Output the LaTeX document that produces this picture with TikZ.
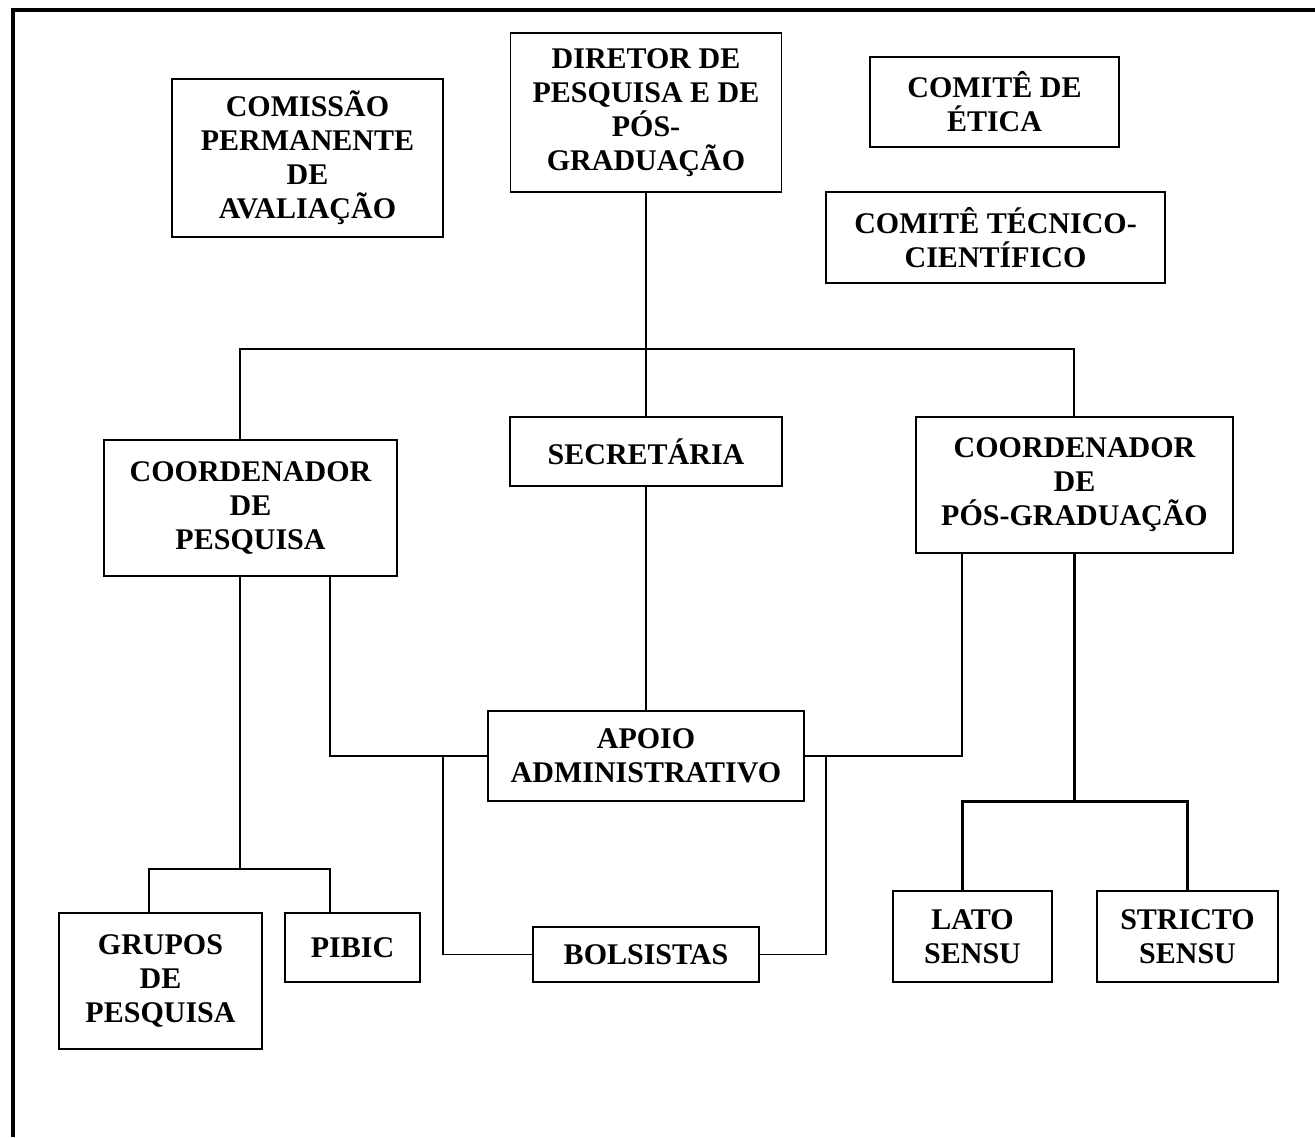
\documentclass[tikz,border=0pt]{standalone}
\usepackage{fontspec}
\setmainfont{Liberation Serif}

\begin{document}
\begin{tikzpicture}
[x=0.5pt,y=-0.5pt,
  lineDecorate/.style={-,line width=0.75pt},%
  thickDecorate/.style={-,line width=1.5pt},
  frameDecorate/.style={-,line width=1.6pt},
  nodeDecorate/.style={shape=rectangle,draw,line width=0.75pt,align=center,
    inner sep=0pt,font={\fontsize{15}{17}\selectfont\bfseries}}]
\useasboundingbox (0,0) rectangle (1315,1137);
%% frame
\draw[frameDecorate] (13,1137) -- (13,10) -- (1315,10);
%% boxes
\foreach \nodename/\x/\y/\w/\h/\txt in {
  comissao/307.5/158/271/158/{COMISSÃO\\PERMANENTE\\DE\\AVALIAÇÃO},
  diretor/646/112.5/271/159/{DIRETOR DE\\PESQUISA E DE\\PÓS-\\GRADUAÇÃO},
  etica/994.5/102/249/90/{COMITÊ DE\\ÉTICA},
  tecnico/995.5/237.5/339/91/{COMITÊ TÉCNICO-\\CIENTÍFICO},
  coordpesq/250.5/508/293/136/{COORDENADOR\\DE\\PESQUISA},
  secretaria/646/451.5/272/69/{SECRETÁRIA},
  coordpos/1074.5/485/317/136/{COORDENADOR\\DE\\PÓS-GRADUAÇÃO},
  apoio/646/756/316/90/{APOIO\\ADMINISTRATIVO},
  bolsistas/646/954.5/226/55/{BOLSISTAS},
  grupos/160.5/981/203/136/{GRUPOS\\DE\\PESQUISA},
  pibic/352.5/947.5/135/69/{PIBIC},
  lato/972.5/936.5/159/91/{LATO\\SENSU},
  stricto/1187.5/936.5/181/91/{STRICTO\\SENSU}}
{
  \node (\nodename) at (\x,\y) [nodeDecorate,minimum width=\w*0.5pt,
    minimum height=\h*0.5pt] {\txt};
}
%% junctions
\coordinate (busL) at (240,349);
\coordinate (busR) at (1074,349);
\coordinate (forkL) at (149,869);
\coordinate (forkR) at (330,869);
\coordinate (latoTop) at (962,801);
\coordinate (strictoTop) at (1187,801);
\coordinate (bolsL) at (443,756);
\coordinate (bolsR) at (826,756);
%% lines
\draw[lineDecorate] (diretor.south) -- (secretaria.north);
\draw[lineDecorate] (busL |- coordpesq.north) -- (busL) -- (busR)
  -- (busR |- coordpos.north);
\draw[lineDecorate] (secretaria.south) -- (apoio.north);
\draw[lineDecorate] (busL |- coordpesq.south) -- (busL |- forkL);
\draw[lineDecorate] (forkL |- grupos.north) -- (forkL) -- (forkR)
  -- (forkR |- pibic.north);
\draw[lineDecorate] (forkR |- coordpesq.south) |- (apoio.west);
\draw[lineDecorate] (apoio.east) -| (latoTop |- coordpos.south);
\draw[lineDecorate] (bolsL) |- (bolsistas.west);
\draw[lineDecorate] (bolsistas.east) -| (bolsR);
\draw[thickDecorate] (coordpos.south) -- (coordpos.south |- latoTop);
\draw[thickDecorate] (latoTop |- lato.north) -- (latoTop) -- (strictoTop)
  -- (strictoTop |- stricto.north);
\end{tikzpicture}
\end{document}
